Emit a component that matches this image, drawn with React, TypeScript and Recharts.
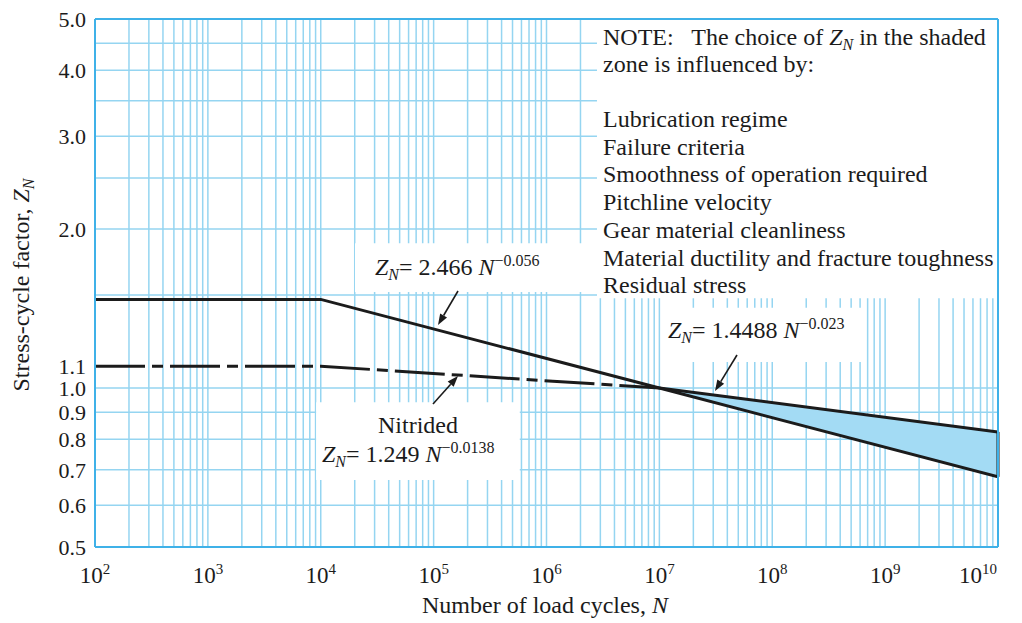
import React from 'react'
import {
  ComposedChart,
  Line,
  Area,
  XAxis,
  YAxis,
  ReferenceLine,
  ReferenceArea,
} from 'recharts'

// load cycles where the curves change slope
const cycles = [1e2, 1e4, 1e7, 1e10]
// Z_N = 2.466 N^-0.056 (flat below 10^4)
const throughHardened = [1.472, 1.472, 1.0, 0.679]
// nitrided, Z_N = 1.249 N^-0.0138
const nitrided = [1.1, 1.1, 1.0, null]
// Z_N = 1.4488 N^-0.023, top of shaded zone
const upperBound = [null, null, 1.0, 0.826]

const xTicks = [1e2, 1e3, 1e4, 1e5, 1e6, 1e7, 1e8, 1e9, 1e10]
const yTicks = [0.5, 0.6, 0.7, 0.8, 0.9, 1.0, 1.1, 2.0, 3.0, 4.0, 5.0]
const yGrid = [0.6, 0.7, 0.8, 0.9, 1.0, 1.5, 2.0, 2.5, 3.0, 3.5, 4.0, 4.5]
const xGrid: number[] = []
for (let k = 2; k < 10; k++) {
  for (let m = 1; m <= 9; m++) {
    if (k === 2 && m === 1) continue
    xGrid.push(m * Math.pow(10, k))
  }
}

const noteLines = [
  'Lubrication regime',
  'Failure criteria',
  'Smoothness of operation required',
  'Pitchline velocity',
  'Gear material cleanliness',
  'Material ductility and fracture toughness',
  'Residual stress',
]

const data = cycles.map((n, i) => ({
  n,
  hard: throughHardened[i],
  nit: nitrided[i],
  upper: upperBound[i],
  band: upperBound[i] != null ? [throughHardened[i], upperBound[i]] : null,
}))

const FONT = '"Liberation Serif", "DejaVu Serif", serif'
const GRID = '#95d5f1'
const FRAME = '#3fb1e8'
const INK = '#1b1b1b'

const XTick = ({ x, y, payload }: any) => {
  const exp = Math.round(Math.log10(payload.value))
  return (
    <text x={x} y={y + 34} textAnchor="middle" fontFamily={FONT} fontSize={23} fill={INK}>
      <tspan>10</tspan>
      <tspan dy={-9} fontSize={15}>{exp}</tspan>
    </text>
  )
}

const YTick = ({ x, y, payload }: any) => (
  <text x={x} y={y} dy="0.35em" textAnchor="end" fontFamily={FONT} fontSize={22} fill={INK}>
    {payload.value.toFixed(1)}
  </text>
)

const Arrow = ({ x1, y1, x2, y2 }: { x1: number; y1: number; x2: number; y2: number }) => {
  const a = Math.atan2(y2 - y1, x2 - x1)
  const len = 11
  const w = 4
  const bx = x2 - len * Math.cos(a)
  const by = y2 - len * Math.sin(a)
  const px = -Math.sin(a) * w
  const py = Math.cos(a) * w
  return (
    <g>
      <line x1={x1} y1={y1} x2={bx} y2={by} stroke={INK} strokeWidth={1.6} />
      <polygon points={`${x2},${y2} ${bx + px},${by + py} ${bx - px},${by - py}`} fill={INK} />
    </g>
  )
}

const ZN = () => (
  <>
    <tspan fontStyle="italic">Z</tspan>
    <tspan fontStyle="italic" fontSize={16} dy={5}>N</tspan>
  </>
)

const Formula = ({ x, y, coef, exp }: { x: number; y: number; coef: string; exp: string }) => (
  <text x={x} y={y} fontFamily={FONT} fontSize={24} fill={INK} style={{ whiteSpace: 'pre' }}>
    <ZN />
    <tspan dy={-5}>{`= ${coef} `}</tspan>
    <tspan fontStyle="italic">N</tspan>
    <tspan fontSize={16} dy={-9}>{exp}</tspan>
  </text>
)

export default function App() {
  return (
    <div style={{ position: 'absolute', left: 0, top: 0, width: 1022, height: 623, background: '#fff' }}>
      <ComposedChart
        width={1022}
        height={623}
        data={data}
        margin={{ top: 19, right: 24, left: 0, bottom: 0 }}
      >
        {xGrid.map((v) => (
          <ReferenceLine key={'x' + v} x={v} stroke={GRID} strokeWidth={1.5} zIndex={-90} />
        ))}
        {yGrid.map((v) => (
          <ReferenceLine key={'y' + v} y={v} stroke={GRID} strokeWidth={1.5} zIndex={-90} />
        ))}

        {/* white backgrounds behind the notes */}
        <ReferenceArea x1={2.8e6} x2={1e10} y1={1.48} y2={5} fill="#fff" fillOpacity={1} stroke="none" zIndex={-80} />
        <ReferenceArea x1={2.01e4} x2={2.8e6} y1={1.52} y2={1.88} fill="#fff" fillOpacity={1} stroke="none" zIndex={-80} />
        <ReferenceArea x1={9.1e3} x2={5.8e5} y1={0.67} y2={0.94} fill="#fff" fillOpacity={1} stroke="none" zIndex={-80} />
        <ReferenceArea x1={1.08e7} x2={6.4e8} y1={1.12} y2={1.42} fill="#fff" fillOpacity={1} stroke="none" zIndex={-80} />

        <XAxis
          dataKey="n"
          type="number"
          scale="log"
          domain={[1e2, 1e10]}
          ticks={xTicks}
          tick={<XTick />}
          tickLine={false}
          tickSize={0}
          height={76}
          axisLine={{ stroke: FRAME, strokeWidth: 2 }}
          allowDataOverflow
        />
        <YAxis
          type="number"
          scale="log"
          domain={[0.5, 5]}
          ticks={yTicks}
          tick={<YTick />}
          tickLine={false}
          tickSize={0}
          tickMargin={9}
          width={95}
          axisLine={{ stroke: FRAME, strokeWidth: 2 }}
          allowDataOverflow
          interval={0}
        />

        <Area
          dataKey="band"
          type="linear"
          fill="#a3dbf4"
          fillOpacity={1}
          stroke="none"
          isAnimationActive={false}
          activeDot={false}
        />
        <Line dataKey="hard" type="linear" stroke={INK} strokeWidth={3} dot={false} isAnimationActive={false} />
        <Line
          dataKey="nit"
          type="linear"
          stroke={INK}
          strokeWidth={3}
          strokeDasharray="50 7 11 7"
          dot={false}
          isAnimationActive={false}
        />
        <Line dataKey="upper" type="linear" stroke={INK} strokeWidth={3} dot={false} isAnimationActive={false} />
        <ReferenceLine
          segment={[
            { x: 1e10, y: throughHardened[3] },
            { x: 1e10, y: upperBound[3] as number },
          ]}
          stroke={INK}
          strokeWidth={3}
        />

        <ReferenceLine y={5} stroke={FRAME} strokeWidth={2} zIndex={500} />
        <ReferenceLine x={1e10} stroke={FRAME} strokeWidth={2} zIndex={500} />
      </ComposedChart>

      <svg
        width={1022}
        height={623}
        style={{ position: 'absolute', left: 0, top: 0, pointerEvents: 'none' }}
      >
        <text x={603} y={45} fontFamily={FONT} fontSize={24} fill={INK} style={{ whiteSpace: 'pre' }}>
          <tspan>{'NOTE:   The choice of '}</tspan>
          <ZN />
          <tspan dy={-5}>{' in the shaded'}</tspan>
        </text>
        <text x={603} y={72} fontFamily={FONT} fontSize={24} fill={INK}>
          zone is influenced by:
        </text>
        {noteLines.map((t, i) => (
          <text key={t} x={603} y={127 + i * 27.7} fontFamily={FONT} fontSize={24} fill={INK}>
            {t}
          </text>
        ))}

        <Formula x={375} y={275} coef="2.466" exp="−0.056" />
        <Arrow x1={458} y1={291} x2={438} y2={325} />

        <text x={378} y={433} fontFamily={FONT} fontSize={24} fill={INK}>
          Nitrided
        </text>
        <Formula x={322} y={462} coef="1.249" exp="−0.0138" />
        <Arrow x1={433} y1={404} x2={458} y2={376} />

        <Formula x={668} y={338} coef="1.4488" exp="−0.023" />
        <Arrow x1={737} y1={355} x2={715} y2={391} />

        <text x={545} y={613} textAnchor="middle" fontFamily={FONT} fontSize={24} fill={INK}>
          Number of load cycles, <tspan fontStyle="italic">N</tspan>
        </text>
        <text
          transform="translate(29,285) rotate(-90)"
          textAnchor="middle"
          fontFamily={FONT}
          fontSize={24}
          fill={INK}
        >
          Stress-cycle factor, <ZN />
        </text>
      </svg>
    </div>
  )
}
